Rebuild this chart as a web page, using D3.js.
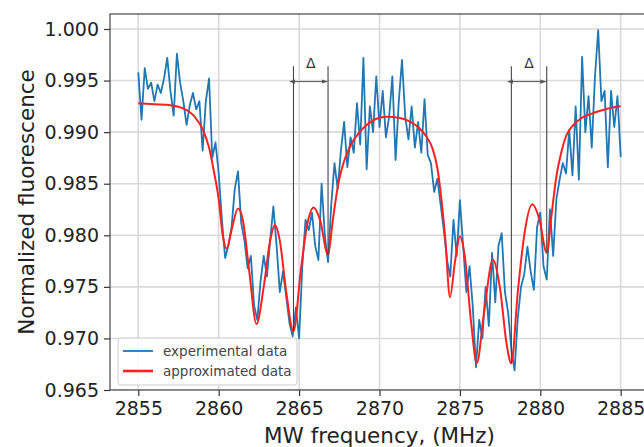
<!DOCTYPE html>
<html>
<head>
<meta charset="utf-8">
<script src="https://cdn.jsdelivr.net/npm/d3@7"></script>
<style>
  html, body { margin: 0; padding: 0; background: #fff; }
  svg { display: block; font-family: "DejaVu Sans", sans-serif; }
</style>
</head>
<body>
<div id="chart"></div>
<script>
// x ticks and y ticks
const xTicks = [2855, 2860, 2865, 2870, 2875, 2880, 2885];
const yTicks = [0.965, 0.970, 0.975, 0.980, 0.985, 0.990, 0.995, 1.000];

// experimental data, sampled every 0.2 MHz from 2855 MHz
const expStart = 2855;
const expStep = 0.2;
const expValues = [
  0.9958, 0.9912, 0.9962, 0.9942, 0.9948, 0.9930, 0.9946, 0.9938, 0.9952, 0.9972,
  0.9940, 0.9916, 0.9976, 0.9948, 0.9930, 0.9907, 0.9926, 0.9938, 0.9922, 0.9930,
  0.9882, 0.9930, 0.9952, 0.9875, 0.9890, 0.9860,
  0.9815, 0.9778, 0.9790, 0.9808, 0.9845, 0.9862, 0.9812, 0.9795, 0.9768, 0.9780,
  0.9732, 0.9718, 0.9755, 0.9780, 0.9760, 0.9795, 0.9828, 0.9790, 0.9745, 0.9765,
  0.9740, 0.9715, 0.9702, 0.9730, 0.9700, 0.9770,
  0.9815, 0.9805, 0.9822, 0.9790, 0.9776, 0.9850, 0.9800, 0.9774, 0.9830, 0.9870,
  0.9845, 0.9882, 0.9910, 0.9866, 0.9895, 0.9880, 0.9928, 0.9888, 0.9972, 0.9864,
  0.9925, 0.9900, 0.9954, 0.9905, 0.9940, 0.9895, 0.9915, 0.9954, 0.9873, 0.9930,
  0.9970, 0.9915, 0.9893, 0.9925, 0.9885, 0.9910, 0.9880, 0.9932, 0.9878, 0.9870,
  0.9842, 0.9855, 0.9830, 0.9805, 0.9776, 0.9760, 0.9815,
  0.9780, 0.9834, 0.9790, 0.9745, 0.9770, 0.9731, 0.9672, 0.9718, 0.9700, 0.9750,
  0.9712, 0.9783, 0.9735, 0.9790, 0.9802, 0.9745, 0.9725, 0.9690, 0.9669, 0.9720,
  0.9750, 0.9762, 0.9789, 0.9765, 0.9747, 0.9808, 0.9822, 0.9770, 0.9757, 0.9825,
  0.9780, 0.9835, 0.9854, 0.9870, 0.9860, 0.9902, 0.9858, 0.9925, 0.9854, 0.9973,
  0.9900, 0.9935, 0.9885, 0.9954, 0.9999, 0.9930, 0.9940, 0.9866, 0.9940, 0.9905,
  0.9935, 0.9876
];

// approximated (fitted) curve
const fitFreq = [
  2855.0, 2856.0, 2857.0, 2857.8, 2858.5, 2859.0, 2859.4, 2859.7, 2860.0, 2860.25,
  2860.5, 2860.8, 2861.2, 2861.5, 2861.9, 2862.35, 2862.8, 2863.2, 2863.5, 2863.8,
  2864.2, 2864.65, 2865.1, 2865.5, 2865.9, 2866.3, 2866.8, 2867.1, 2867.45, 2867.8,
  2868.2, 2868.7, 2869.2, 2869.8, 2870.5, 2871.2, 2871.8, 2872.4, 2872.9, 2873.3,
  2873.6, 2873.85, 2874.1, 2874.38, 2874.7, 2875.0, 2875.3, 2875.7, 2876.05, 2876.5,
  2877.05, 2877.5, 2877.9, 2878.2, 2878.6, 2879.0, 2879.5, 2879.95, 2880.4, 2880.7,
  2881.0, 2881.3, 2881.6, 2882.0, 2882.5, 2883.2, 2884.0, 2885.0
];
const fitValues = [
  0.9928, 0.9927, 0.9926, 0.9923, 0.9915, 0.9903, 0.9885, 0.9862, 0.9835, 0.9800,
  0.9787, 0.9805, 0.9826, 0.9815, 0.9765, 0.9714, 0.9750, 0.9795, 0.9810, 0.9795,
  0.9745, 0.9707, 0.9765, 0.9810, 0.9827, 0.9815, 0.9781, 0.9815, 0.9851, 0.9872,
  0.9887, 0.9899, 0.9907, 0.9913, 0.9915, 0.9914, 0.9911, 0.9905, 0.9896, 0.9884,
  0.9865, 0.9835, 0.9795, 0.9740, 0.9775, 0.9799, 0.9780, 0.9715, 0.9676, 0.9725,
  0.9776, 0.9748, 0.9695, 0.9676, 0.9745, 0.9800, 0.9830, 0.9815, 0.9783, 0.9820,
  0.9857, 0.9880, 0.9896, 0.9906, 0.9913, 0.9918, 0.9922, 0.9925
];

// splitting markers: frequency and lower end of each vertical line
const markFreq = [2864.65, 2866.8, 2878.2, 2880.4];
const markBottom = [0.9707, 0.9781, 0.9676, 0.9783];
const markTop = 0.9964;
const arrowLevel = 0.9949;
const deltaPairs = [[0, 1], [2, 3]];

const legendLabels = ["experimental data", "approximated data"];

const width = 644, height = 447;
const margin = {top: 14, left: 110, bottom: 57};
const plotRight = 649; // right spine falls just outside the window

const svg = d3.select("#chart").append("svg")
  .attr("width", width)
  .attr("height", height);

const x = d3.scaleLinear().domain([2853.24, 2886.76]).range([margin.left, plotRight]);
const y = d3.scaleLinear().domain([0.965, 1.001454]).range([height - margin.bottom, margin.top]);

const defs = svg.append("defs");
defs.append("clipPath").attr("id", "plotclip")
  .append("rect")
  .attr("x", margin.left).attr("y", margin.top)
  .attr("width", plotRight - margin.left).attr("height", y(0.965) - margin.top);

// arrow heads
["start", "end"].forEach(k => {
  defs.append("marker")
    .attr("id", "arrow-" + k)
    .attr("viewBox", "0 0 10 10")
    .attr("refX", k === "end" ? 9 : 1).attr("refY", 5)
    .attr("markerWidth", 6).attr("markerHeight", 6)
    .attr("orient", k === "end" ? "auto" : "auto-start-reverse")
    .append("path")
    .attr("d", "M0,1.5 L10,5 L0,8.5 Z")
    .attr("fill", "#555");
});

// grid
const grid = svg.append("g").attr("clip-path", "url(#plotclip)");
grid.selectAll(".vg").data(xTicks).enter().append("line")
  .attr("x1", d => x(d)).attr("x2", d => x(d))
  .attr("y1", margin.top).attr("y2", y(0.965))
  .attr("stroke", "#d9d9d9").attr("stroke-width", 1.6);
grid.selectAll(".hg").data(yTicks).enter().append("line")
  .attr("x1", margin.left).attr("x2", plotRight)
  .attr("y1", d => y(d)).attr("y2", d => y(d))
  .attr("stroke", "#d9d9d9").attr("stroke-width", 1.6);

const plot = svg.append("g").attr("clip-path", "url(#plotclip)");

// experimental
const expData = expValues.map((v, i) => [expStart + i * expStep, v]);
plot.append("path")
  .datum(expData)
  .attr("fill", "none")
  .attr("stroke", "#1f77b4")
  .attr("stroke-width", 1.8)
  .attr("stroke-linejoin", "round")
  .attr("d", d3.line().x(d => x(d[0])).y(d => y(d[1])));

// fit
const fitData = fitFreq.map((f, i) => [f, fitValues[i]]);
plot.append("path")
  .datum(fitData)
  .attr("fill", "none")
  .attr("stroke", "#ff2020")
  .attr("stroke-width", 2)
  .attr("d", d3.line().curve(d3.curveMonotoneX).x(d => x(d[0])).y(d => y(d[1])));

// splitting markers
plot.selectAll(".mark").data(markFreq).enter().append("line")
  .attr("x1", d => x(d)).attr("x2", d => x(d))
  .attr("y1", y(markTop)).attr("y2", (d, i) => y(markBottom[i]))
  .attr("stroke", "#444").attr("stroke-width", 1.1);

deltaPairs.forEach(p => {
  const a = markFreq[p[0]], b = markFreq[p[1]];
  plot.append("line")
    .attr("x1", x(a) + 1).attr("x2", x(b) - 1)
    .attr("y1", y(arrowLevel)).attr("y2", y(arrowLevel))
    .attr("stroke", "#555").attr("stroke-width", 1)
    .attr("marker-start", "url(#arrow-start)")
    .attr("marker-end", "url(#arrow-end)");
  plot.append("text")
    .attr("x", (x(a) + x(b)) / 2)
    .attr("y", y(arrowLevel) - 14)
    .attr("text-anchor", "middle")
    .attr("font-size", 14)
    .attr("fill", "#333")
    .text("Δ");
});

// axes
const xAxis = svg.append("g")
  .attr("transform", `translate(0,${y(0.965)})`)
  .call(d3.axisBottom(x).tickValues(xTicks).tickFormat(d3.format("d")).tickSize(6).tickPadding(6));
const yAxis = svg.append("g")
  .attr("transform", `translate(${margin.left},0)`)
  .call(d3.axisLeft(y).tickValues(yTicks).tickFormat(d3.format(".3f")).tickSize(6).tickPadding(5));
[xAxis, yAxis].forEach(g => {
  g.select(".domain").remove();
  g.selectAll(".tick line").attr("stroke", "#333").attr("stroke-width", 1.2);
  g.selectAll(".tick text").attr("font-size", 19).attr("fill", "#222")
    .attr("font-family", "DejaVu Sans, sans-serif");
});

// spines
svg.append("rect")
  .attr("x", margin.left).attr("y", margin.top)
  .attr("width", plotRight - margin.left).attr("height", y(0.965) - margin.top)
  .attr("fill", "none").attr("stroke", "#444").attr("stroke-width", 1.2);

// axis labels
svg.append("text")
  .attr("x", (margin.left + plotRight) / 2)
  .attr("y", 443)
  .attr("text-anchor", "middle")
  .attr("font-size", 21.5)
  .attr("fill", "#222")
  .text("MW frequency, (MHz)");
svg.append("text")
  .attr("transform", `translate(34,${(margin.top + y(0.965)) / 2}) rotate(-90)`)
  .attr("text-anchor", "middle")
  .attr("font-size", 21.5)
  .attr("fill", "#222")
  .text("Normalized fluorescence");

// legend
const lg = svg.append("g").attr("transform", "translate(118,338)");
lg.append("rect")
  .attr("width", 179).attr("height", 47).attr("rx", 3)
  .attr("fill", "rgba(255,255,255,0.8)")
  .attr("stroke", "#ccc").attr("stroke-width", 1);
const legendColors = ["#1f77b4", "#ff2020"];
const legendWidths = [1.8, 2.6];
legendLabels.forEach((t, i) => {
  const ly = 13 + i * 20;
  lg.append("line")
    .attr("x1", 5).attr("x2", 35).attr("y1", ly).attr("y2", ly)
    .attr("stroke", legendColors[i]).attr("stroke-width", legendWidths[i]);
  lg.append("text")
    .attr("x", 45).attr("y", ly + 4.5)
    .attr("font-size", 13.5)
    .attr("fill", "#444")
    .text(t);
});
</script>
</body>
</html>
